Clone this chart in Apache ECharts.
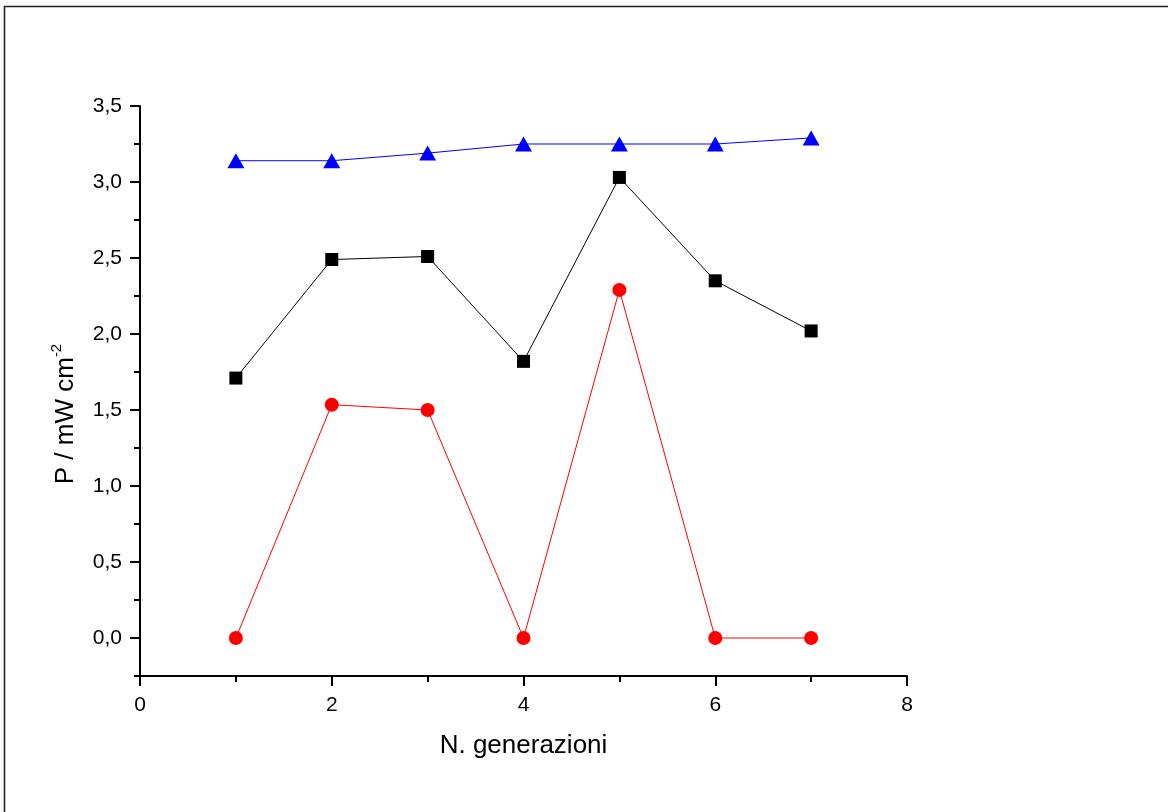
<!DOCTYPE html>
<html>
<head>
<meta charset="utf-8">
<script src="https://cdn.jsdelivr.net/npm/echarts@6/dist/echarts.min.js"></script>
<style>html,body{margin:0;padding:0;background:#fff}#c{width:1168px;height:812px}</style>
</head>
<body>
<div id="c"></div>
<script>
const generations = [1, 2, 3, 4, 5, 6, 7];
const blueValues = [3.14, 3.14, 3.19, 3.25, 3.25, 3.25, 3.29];
const blackValues = [1.71, 2.49, 2.51, 1.82, 3.03, 2.35, 2.02];
const redValues = [0, 1.535, 1.50, 0, 2.29, 0, 0];
const yMajorTicks = [0, 0.5, 1, 1.5, 2, 2.5, 3, 3.5];
const yMinorTicks = [-0.25, 0.25, 0.75, 1.25, 1.75, 2.25, 2.75, 3.25];
const xTitle = 'N. generazioni';
const yTitle = 'P / mW cm';
const yTitleSup = '-2';

const FONT = '"Liberation Sans", Arial, Helvetica, sans-serif';
const pairs = vals => generations.map((g, i) => [g, vals[i]]);

const chart = echarts.init(document.getElementById('c'), null, {renderer: 'canvas'});
const axisLineStyle = {color: '#000', width: 2};
chart.setOption({
  animation: false,
  backgroundColor: '#fff',
  grid: {left: 140, right: 261, top: 106, bottom: 136},
  xAxis: {
    type: 'value', min: 0, max: 8, interval: 2,
    name: xTitle, nameLocation: 'middle', nameGap: 57,
    nameTextStyle: {fontFamily: FONT, fontSize: 26, color: '#000'},
    axisLine: {show: true, onZero: false, lineStyle: axisLineStyle},
    axisTick: {show: true, length: 10, lineStyle: {color: '#000', width: 2}},
    minorTick: {show: true, splitNumber: 2, length: 6, lineStyle: {color: '#000', width: 2}},
    splitLine: {show: false}, minorSplitLine: {show: false},
    axisLabel: {fontFamily: FONT, fontSize: 21, color: '#000', margin: 19, formatter: v => String(v)}
  },
  yAxis: [{
    type: 'value', min: -0.25, max: 3.5,
    axisLine: {show: true, onZero: false, lineStyle: axisLineStyle},
    axisTick: {show: true, length: 10, customValues: yMajorTicks, lineStyle: {color: '#000', width: 2}},
    splitLine: {show: false},
    axisLabel: {fontFamily: FONT, fontSize: 21, color: '#000', margin: 18, customValues: yMajorTicks,
      formatter: v => v.toFixed(1).replace('.', ',')}
  }, {
    type: 'value', min: -0.25, max: 3.5, position: 'left',
    axisLine: {show: false},
    axisTick: {show: true, length: 6, customValues: yMinorTicks, lineStyle: {color: '#000', width: 2}},
    axisLabel: {show: false, customValues: yMinorTicks},
    splitLine: {show: false}
  }],
  series: [{
    type: 'line', data: pairs(blueValues), yAxisIndex: 0,
    symbol: 'triangle', symbolSize: [17, 15],
    lineStyle: {color: '#0000ff', width: 1}, itemStyle: {color: '#0000ff'}, z: 3
  }, {
    type: 'line', data: pairs(blackValues), yAxisIndex: 0,
    symbol: 'rect', symbolSize: 13,
    lineStyle: {color: '#000', width: 1}, itemStyle: {color: '#000'}, z: 3
  }, {
    type: 'line', data: pairs(redValues), yAxisIndex: 0,
    symbol: 'circle', symbolSize: 14,
    lineStyle: {color: '#ff0000', width: 1}, itemStyle: {color: '#ff0000'}, z: 3
  }],
  graphic: [{
    type: 'rect', silent: true,
    shape: {x: 4.5, y: 6.5, width: 1400, height: 1000},
    style: {fill: 'none', stroke: '#222', lineWidth: 1.6}
  }, {
    type: 'text', silent: true, x: 64, y: 414, rotation: Math.PI / 2,
    style: {
      text: '{a|' + yTitle + '}{b|' + yTitleSup + '}',
      align: 'center', verticalAlign: 'middle',
      rich: {
        a: {fontFamily: FONT, fontSize: 26, fill: '#000', verticalAlign: 'bottom', lineHeight: 30},
        b: {fontFamily: FONT, fontSize: 15, fill: '#000', verticalAlign: 'top', lineHeight: 30}
      }
    }
  }]
});
</script>
</body>
</html>
